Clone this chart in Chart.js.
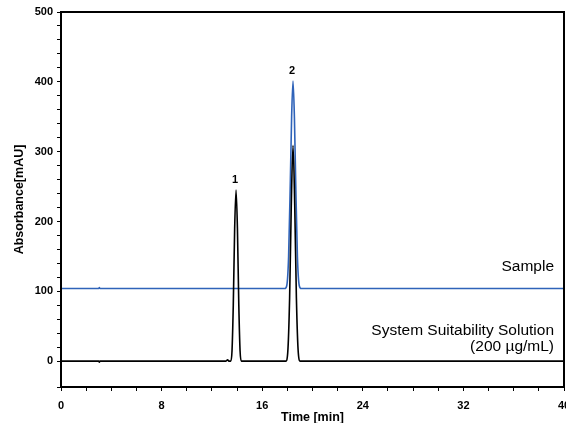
<!DOCTYPE html>
<html>
<head>
<meta charset="utf-8">
<script src="https://cdn.jsdelivr.net/npm/chart.js@4"></script>
<style>
  html, body { margin: 0; padding: 0; background: #fff; }
  #wrap { width: 566px; height: 423px; }
</style>
</head>
<body>
<div id="wrap"><canvas id="chart"></canvas></div>
<script>
// chromatogram traces (time in min, absorbance in mAU)
const sstTime = [0, 3.0, 3.05, 3.1, 13.1, 13.25, 13.35, 13.5, 13.6, 13.7, 13.81, 13.92, 14.03, 14.14, 14.24, 14.34, 17.88, 18.03, 18.18, 18.31, 18.45, 18.59, 18.72, 18.87, 19.02, 40];
const sstAbs  = [0, 0,   -1.5, 0,   0,    2,     0,     0,    15,   80,   190,   245,   190,   80,    15,    0,     0,     12,    90,    220,   309,   220,   90,    12,    0,     0];

const sampleTime = [0, 3.0, 3.05, 3.1, 17.8, 17.95, 18.1, 18.24, 18.34, 18.45, 18.56, 18.66, 18.8, 18.95, 19.1, 40];
const sampleAbs  = [104, 104, 105.5, 104, 104, 108, 150, 260, 350, 401, 350, 260, 150, 108, 104, 104];

const peakNames = ["1", "2"];
const peakTimes = [13.92, 18.45];
const peakTops = [245, 401];

const seriesNames = ["Sample", "System Suitability Solution", "(200 \u00b5g/mL)"];

const toPoints = (xs, ys) => xs.map((x, i) => ({ x: x, y: ys[i] }));

const FONT = "'Liberation Sans', Arial, sans-serif";

// labels and outer frame
const notes = {
  id: "notes",
  afterDraw(c) {
    const ctx = c.ctx;
    const xs = c.scales.x, ys = c.scales.y;
    const a = c.chartArea;
    ctx.save();
    ctx.strokeStyle = "#000";
    ctx.lineWidth = 2;
    ctx.strokeRect(a.left, a.top, a.right - a.left, a.bottom - a.top);

    ctx.fillStyle = "#000";
    ctx.font = "bold 11px " + FONT;
    ctx.textAlign = "center";
    ctx.textBaseline = "bottom";
    peakNames.forEach((n, i) => {
      ctx.fillText(n, xs.getPixelForValue(peakTimes[i]) - 1, ys.getPixelForValue(peakTops[i]) - 5);
    });

    ctx.font = "15.5px " + FONT;
    ctx.textAlign = "right";
    ctx.textBaseline = "middle";
    const rx = a.right - 10;
    ctx.fillText(seriesNames[0], rx, ys.getPixelForValue(sampleAbs[0]) - 22);
    ctx.fillText(seriesNames[1], rx, ys.getPixelForValue(sstAbs[0]) - 30);
    ctx.fillText(seriesNames[2], rx, ys.getPixelForValue(sstAbs[0]) - 14);
    ctx.restore();
  }
};

new Chart(document.getElementById("chart"), {
  type: "line",
  data: {
    datasets: [
      {
        label: "System Suitability Solution",
        data: toPoints(sstTime, sstAbs),
        borderColor: "#000000",
        borderWidth: 1.6,
        pointRadius: 0,
        cubicInterpolationMode: "monotone",
        order: 0
      },
      {
        label: "Sample",
        data: toPoints(sampleTime, sampleAbs),
        borderColor: "#2f63b9",
        borderWidth: 1.6,
        pointRadius: 0,
        cubicInterpolationMode: "monotone",
        order: 1
      }
    ]
  },
  options: {
    responsive: true,
    maintainAspectRatio: false,
    animation: false,
    layout: { padding: { top: 12, right: 2, left: 0, bottom: 0 } },
    plugins: { legend: { display: false }, tooltip: { enabled: false } },
    scales: {
      x: {
        type: "linear",
        min: 0,
        max: 40,
        afterFit: (s) => { s.height = 36; s.paddingLeft = 0; s.paddingRight = 0; },
        ticks: {
          stepSize: 2,
          autoSkip: false,
          maxRotation: 0,
          padding: 8,
          color: "#000",
          font: { family: FONT, size: 11, weight: "bold" },
          callback: (v) => (v % 8 === 0 ? v : "")
        },
        grid: { drawOnChartArea: false, tickLength: 4, color: "#000" },
        border: { color: "#000", width: 2 },
        title: {
          display: true,
          text: "Time [min]",
          color: "#000",
          padding: 0,
          font: { family: FONT, size: 12.5, weight: "bold", lineHeight: 0.8 }
        }
      },
      y: {
        min: -37,
        max: 500,
        afterFit: (s) => { s.width = 61; s.paddingTop = 0; s.paddingBottom = 0; },
        ticks: {
          stepSize: 20,
          autoSkip: false,
          padding: 4,
          color: "#000",
          font: { family: FONT, size: 11, weight: "bold" },
          callback: (v) => (v >= 0 && v % 100 === 0 ? v : "")
        },
        grid: { drawOnChartArea: false, tickLength: 4, color: "#000" },
        border: { color: "#000", width: 2 },
        title: {
          display: true,
          text: "Absorbance[mAU]",
          color: "#000",
          padding: { top: 13, bottom: 0 },
          font: { family: FONT, size: 12.5, weight: "bold", lineHeight: 1 }
        }
      }
    }
  },
  plugins: [notes]
});
</script>
</body>
</html>
